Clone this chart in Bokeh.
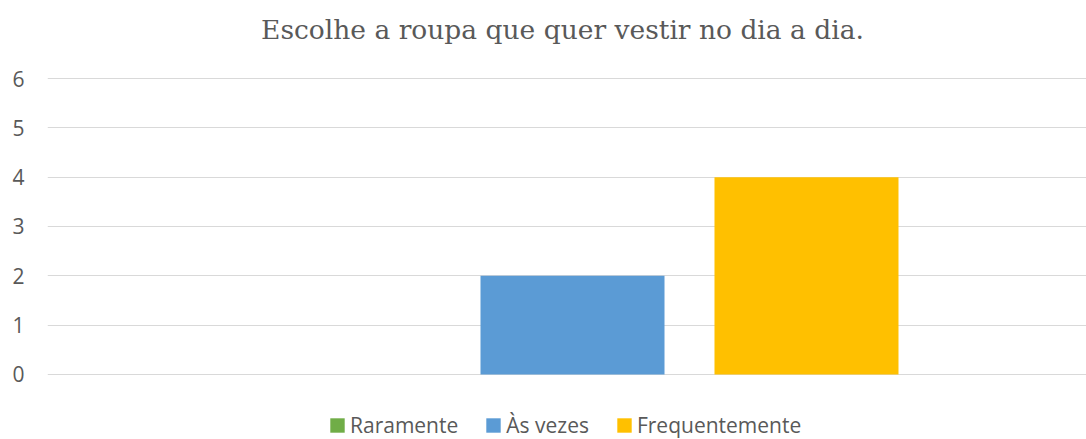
from bokeh.plotting import figure
from bokeh.models import (ColumnDataSource, FactorRange, Range1d, FixedTicker,
                          Legend, LegendItem, Label)
from bokeh.transform import dodge
from bokeh.embed import file_html
from bokeh.resources import INLINE

title_text = "Escolhe a roupa que quer vestir no dia a dia."
categories = ["Resposta"]
series = ["Raramente", "Às vezes", "Frequentemente"]
raramente = [0]
as_vezes = [2]
frequentemente = [4]
y_ticks = [0, 1, 2, 3, 4, 5, 6]
colors = ["#70AD47", "#5B9BD5", "#FFC000"]

source = ColumnDataSource(dict(cat=categories, raramente=raramente,
                               as_vezes=as_vezes, frequentemente=frequentemente))
cols = ["raramente", "as_vezes", "frequentemente"]
offsets = [-0.2199, 0.0053, 0.2305]
bar_w = 0.1771

# frame spans the full canvas height; y=0 at 374px, y=6 at 78px
p = figure(width=1086, height=439,
           x_range=FactorRange(factors=categories, range_padding=0),
           y_range=Range1d(-1.3176, 7.5811),
           x_axis_location=None,
           output_backend="svg", toolbar_location=None,
           min_border_left=47, min_border_right=0,
           min_border_top=0, min_border_bottom=0)

renderers = []
for col, off, c in zip(cols, offsets, colors):
    r = p.vbar(x=dodge("cat", off, range=p.x_range), top=col, width=bar_w,
               source=source, fill_color=c, line_color=None)
    renderers.append(r)

title = Label(x=515, y=410, x_units="screen", y_units="screen", text=title_text,
              text_align="center", text_baseline="alphabetic",
              text_font="DejaVu Serif", text_font_size="26.5px",
              text_color="#595959")
p.add_layout(title)

ax = p.yaxis[0]
ax.ticker = FixedTicker(ticks=y_ticks)
ax.axis_line_color = None
ax.major_tick_line_color = None
ax.minor_tick_line_color = None
ax.major_tick_out = 0
ax.major_tick_in = 0
ax.major_label_standoff = 23
ax.major_label_text_font = "Open Sans"
ax.major_label_text_font_size = "21px"
ax.major_label_text_color = "#595959"

p.ygrid.ticker = FixedTicker(ticks=y_ticks)
p.ygrid.grid_line_color = "#D9D9D9"
p.ygrid.grid_line_width = 1
p.xgrid.visible = False
p.outline_line_color = None

legend = Legend(items=[LegendItem(label=s, renderers=[r]) for s, r in zip(series, renderers)],
                orientation="horizontal", location=(281, 0),
                border_line_color=None, background_fill_alpha=0,
                padding=0, margin=0, spacing=26, label_standoff=4,
                glyph_width=18, glyph_height=18,
                label_text_font="Open Sans", label_text_font_size="21px",
                label_text_color="#595959")
p.add_layout(legend)

open("out.html", "w").write(file_html(p, INLINE))
